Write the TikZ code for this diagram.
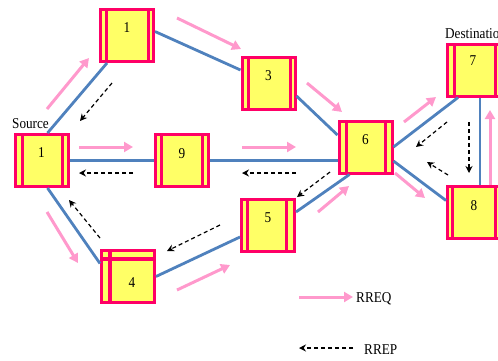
\documentclass[tikz,border=0pt]{standalone}
\usepackage{fontspec}
\setmainfont{Liberation Serif}[FakeStretch=0.88]
\usetikzlibrary{arrows.meta,calc}
\definecolor{boxrim}{HTML}{FF0066}
\definecolor{boxfill}{HTML}{FFFF66}
\definecolor{linkblue}{HTML}{4F81BD}
\definecolor{reqpink}{HTML}{FF99CC}
\tikzset{
  nodebox/.style 2 args={draw=boxrim, fill=boxfill, line width=3pt,
    minimum width=53pt, minimum height=52pt, inner sep=0pt,
    path picture={\draw[boxrim, line width=3pt]
      ([xshift=#1pt]path picture bounding box.north west) -- ([xshift=#1pt]path picture bounding box.south west)
      ([xshift=-#2pt]path picture bounding box.north east) -- ([xshift=-#2pt]path picture bounding box.south east);}},
  crossbox/.style={draw=boxrim, fill=boxfill, line width=3pt,
    minimum width=53pt, minimum height=52pt, inner sep=0pt,
    path picture={\draw[boxrim, line width=3.5pt]
      ([xshift=8.5pt]path picture bounding box.north west) -- ([xshift=8.5pt]path picture bounding box.south west)
      ([yshift=-8.5pt]path picture bounding box.north west) -- ([yshift=-8.5pt]path picture bounding box.north east);}},
  txt/.style={font=\fontsize{15}{15}\selectfont, inner sep=0pt, anchor=base},
  link/.style={linkblue, line width=2.8pt},
  rreq/.style={reqpink, line width=3pt, -{Triangle[length=9pt,width=10pt]}},
  rrep/.style={black, line width=1.2pt, dash pattern=on 4pt off 3pt, -{Stealth[length=7pt,width=7pt]}},
}
\begin{document}
\begin{tikzpicture}[x=1pt,y=-1pt]
\useasboundingbox (0,0) rectangle (498,360);

% routers
\node[nodebox={6}{5}]     (n1t) at (127,35.5) {};
\node[nodebox={7}{5.5}]   (src) at (41.5,160.5) {};
\node[nodebox={5.5}{6.5}] (n9)  at (182,160.5) {};
\node[nodebox={6.5}{4.5}] (n3)  at (268.5,83) {};
\node[nodebox={7.5}{6.5}] (n6)  at (365.5,147) {};
\node[nodebox={6.5}{5}]   (n7)  at (474,70) {};
\node[nodebox={5}{5}]     (n8)  at (474,212.5) {};
\node[nodebox={5.5}{8.5}] (n5)  at (268,225) {};
\node[crossbox]           (n4)  at (128,276.5) {};

% router numbers
\node[txt] (t1t) at ($(n1t.north)+(0,24)$) {1};
\node[txt] (tsrc) at ($(src.north)+(0,24)$) {1};
\node[txt] (t9) at ($(n9.north)+(0,25)$) {9};
\node[txt] (t3) at ($(n3.north)+(0,24.5)$) {3};
\node[txt] (t6) at ($(n6.north)+(0,24.5)$) {6};
\node[txt] (t7) at ($(n7.north)+(-1,23)$) {7};
\node[txt] (t8) at ($(n8.north)+(0,25)$) {8};
\node[txt] (t5) at ($(n5.north)+(0,24.5)$) {5};
\node[txt] (t4) at ($(n4.north)+(4,38)$) {4};

% captions
\node[txt, anchor=base west] (lsrc) at (12,128) {Source};
\node[txt, anchor=base west] (ldst) at (445,38) {Destination};

% links
\draw[link] ($(src.north)+(6,0)$) -- ($(n1t.south)+(-20,0)$);
\draw[link] ($(n1t.east)+(0,-4)$) -- ($(n3.west)+(0,-13)$);
\draw[link] ($(n3.east)+(0,13)$) -- ($(n6.west)+(0,-12)$);
\draw[link] (src.east) -- (n9.west);
\draw[link] (n9.east) -- (n9.east -| n6.west);
\draw[link] (n6.east) -- ($(n7.south)+(-16,0)$);
\draw[link] ($(n6.east)+(0,14)$) -- ($(n8.west)+(0,-12)$);
\draw[link] ($(n7.south)+(6,0)$) -- ($(n8.north)+(6,0)$);
\draw[link] ($(n6.south)+(-16,0)$) -- ($(n5.east)+(0,-13)$);
\draw[link] ($(n5.west)+(0,12)$) -- (n4.east);
\draw[link] ($(src.south)+(6,0)$) -- ($(n4.west)+(0,-13)$);

% route requests
\draw[rreq] (47,109) -- (89,58);
\draw[rreq] (177,18) -- (241,49);
\draw[rreq] (307,83) -- (342,112);
\draw[rreq] (79,147) -- (133,147);
\draw[rreq] (242,147) -- (296,147);
\draw[rreq] (404,122) -- (436,97);
\draw[rreq] (395,173) -- (425,198);
\draw[rreq] (490,185) -- (490,110);
\draw[rreq] (318,212) -- (349,186);
\draw[rreq] (177,290) -- (230,265);
\draw[rreq] (47,212) -- (78,263);

% route replies
\draw[rrep] (112,83) -- (80,121);
\draw[rrep] (133,173) -- (79,173);
\draw[rrep] (296,173) -- (242,173);
\draw[rrep] (447,122) -- (416,147);
\draw[rrep] (448,175) -- (427,162);
\draw[rrep] (469,122) -- (469,173);
\draw[rrep] (330,172) -- (297,197);
\draw[rrep] (220,225) -- (167,251);
\draw[rrep] (100,238) -- (69,200);

% legend
\coordinate (qa) at (299,297);
\coordinate (qb) at (353,297);
\draw[rreq] (qa) -- (qb);
\node[txt, anchor=base west] (qlab) at (356,302.5) {RREQ};
\coordinate (pa) at (353,348);
\coordinate (pb) at (299,348);
\draw[rrep] (pa) -- (pb);
\node[txt, anchor=base west] (plab) at (364,354) {RREP};
\end{tikzpicture}
\end{document}
